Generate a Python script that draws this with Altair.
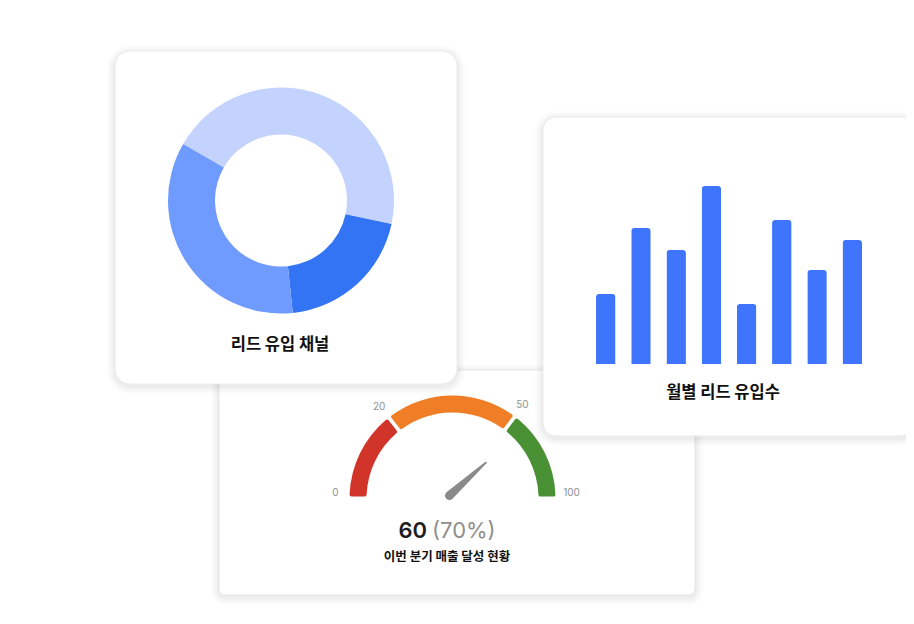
import math
import altair as alt
import pandas as pd

# ---------------- data ----------------
donut_channels = ["채널 A", "채널 B", "채널 C"]
donut_values = [45, 20, 35]
donut_colors = ["#C3D3FE", "#3374F5", "#6F9BFE"]

bar_months = ["1월", "2월", "3월", "4월", "5월", "6월", "7월", "8월"]
bar_values = [350, 680, 570, 890, 300, 720, 470, 620]

gauge_ticks = [0, 20, 50, 100]
gauge_segments = ["미달", "보통", "달성"]
gauge_colors = ["#D1352A", "#F07E26", "#4A9136"]
gauge_value = 60
gauge_percent = 70

donut_title = "리드 유입 채널"
bar_title = "월별 리드 유입수"
gauge_title = "이번 분기 매출 달성 현황"

# ---------------- layout (page px -> chart px) ----------------
O = 8
def P(v):
    return v - O

FONT = "Inter, Noto Sans CJK KR, sans-serif"
KFONT = "Noto Sans CJK KR, sans-serif"
one = pd.DataFrame({"k": [0]})


def card(x0, y0, x1, y1, r, stroke="#ebebeb"):
    layers = []
    for e, op in [(8, 0.012), (6, 0.016), (4, 0.02), (2, 0.025)]:
        layers.append(
            alt.Chart(one).mark_rect(color="black", opacity=op, cornerRadius=r + e).encode(
                x=alt.value(P(x0 - e)), x2=alt.value(P(x1 + e)),
                y=alt.value(P(y0 - e + 2)), y2=alt.value(P(y1 + e + 2)),
            )
        )
    layers.append(
        alt.Chart(one).mark_rect(fill="white", stroke=stroke, strokeWidth=1, cornerRadius=r).encode(
            x=alt.value(P(x0)), x2=alt.value(P(x1)),
            y=alt.value(P(y0)), y2=alt.value(P(y1)),
        )
    )
    return layers


# ---------------- gauge ----------------
GCX, GCY = 452.5, 498.5
theta_range = [-math.pi / 2, math.radians(-38.2), math.radians(37.3), math.pi / 2]
angle_range = [-90, -38.2, 37.3, 90]

seg_df = pd.DataFrame({
    "seg": gauge_segments,
    "start": gauge_ticks[:-1],
    "end": gauge_ticks[1:],
})
gauge_arcs = alt.Chart(seg_df).mark_arc(radius=103, radius2=86, padAngle=0.028, cornerRadius=2).encode(
    theta=alt.Theta("start:Q", stack=None,
                    scale=alt.Scale(domain=gauge_ticks, range=theta_range, zero=False, nice=False)),
    theta2="end:Q",
    color=alt.Color("seg:N", scale=alt.Scale(domain=gauge_segments, range=gauge_colors), legend=None),
    x=alt.value(P(GCX)), y=alt.value(P(GCY)),
)

tick_df = pd.DataFrame({"t": gauge_ticks})
tick_scale = alt.Scale(domain=gauge_ticks, range=theta_range, zero=False, nice=False)
tick_mid = alt.Chart(tick_df).transform_filter("datum.t > 0 && datum.t < 100").mark_text(
    radius=117, fontSize=10, color="#8f8f8f", font=FONT, align="center", baseline="middle"
).encode(
    theta=alt.Theta("t:Q", stack=None, scale=tick_scale),
    text="t:Q",
    x=alt.value(P(GCX - 1)), y=alt.value(P(GCY)),
)
tick_end = alt.Chart(tick_df).transform_filter("datum.t == 0 || datum.t == 100").mark_text(
    radius=118, fontSize=10, color="#8f8f8f", font=FONT, align="center", baseline="middle", dy=-6
).encode(
    theta=alt.Theta("t:Q", stack=None, scale=tick_scale),
    text="t:Q",
    x=alt.value(P(GCX + 1)), y=alt.value(P(GCY)),
)

needle_path = ("M -0.092 0 L -0.02 -1 A 0.02 0.02 0 0 1 0.02 -1 L 0.092 0 "
               "A 0.092 0.092 0 0 1 -0.092 0 Z")
val_df = pd.DataFrame({"value": [gauge_value], "pct": [gauge_percent]})
needle = alt.Chart(val_df).mark_point(
    shape=needle_path, size=98 * 98, filled=True, color="#8a8a8a", opacity=1, strokeWidth=0
).encode(
    angle=alt.Angle("value:Q", scale=alt.Scale(domain=gauge_ticks, range=angle_range, zero=False, nice=False)),
    x=alt.value(P(449.5)), y=alt.value(P(495.5)),
)

val_text = alt.Chart(val_df).mark_text(
    align="right", baseline="alphabetic", fontSize=22, fontWeight=600, color="#1d1d1d", font=FONT
).encode(text="value:Q", x=alt.value(P(427)), y=alt.value(P(537.5)))
pct_text = alt.Chart(val_df).transform_calculate(lbl="'(' + datum.pct + '%)'").mark_text(
    align="left", baseline="alphabetic", fontSize=22, fontWeight=400, color="#8e8e8e", font=FONT
).encode(text="lbl:N", x=alt.value(P(432)), y=alt.value(P(537.5)))
gauge_title_text = alt.Chart(pd.DataFrame({"t": [gauge_title]})).mark_text(
    align="center", baseline="middle", fontSize=12.5, fontWeight="bold", color="#111111", font=KFONT
).encode(text="t:N", x=alt.value(P(447)), y=alt.value(P(557)))

# ---------------- donut ----------------
DCX, DCY = 281, 200.5
start = math.radians(300)
donut_df = pd.DataFrame({"channel": donut_channels, "value": donut_values,
                         "idx": list(range(len(donut_channels)))})
donut = alt.Chart(donut_df).mark_arc(radius=113, radius2=66).encode(
    theta=alt.Theta("value:Q", stack=True, scale=alt.Scale(range=[start, start + 2 * math.pi])),
    color=alt.Color("channel:N", scale=alt.Scale(domain=donut_channels, range=donut_colors), legend=None),
    order=alt.Order("idx:Q"),
    x=alt.value(P(DCX)), y=alt.value(P(DCY)),
)
donut_title_text = alt.Chart(pd.DataFrame({"t": [donut_title]})).mark_text(
    align="center", baseline="middle", fontSize=16.5, fontWeight="bold", color="#111111", font=KFONT
).encode(text="t:N", x=alt.value(P(280)), y=alt.value(P(345)))

# ---------------- bars ----------------
bar_df = pd.DataFrame({"month": bar_months, "value": bar_values})
bars = alt.Chart(bar_df).mark_bar(color="#3F75FC", cornerRadiusTopLeft=3, cornerRadiusTopRight=3).encode(
    x=alt.X("month:N", sort=bar_months, axis=None,
            scale=alt.Scale(range=[P(596), P(862)], paddingInner=0.446, paddingOuter=0)),
    y=alt.Y("value:Q", axis=None,
            scale=alt.Scale(domain=[0, 890], range=[P(364), P(186)], nice=False, zero=True)),
)
bar_title_text = alt.Chart(pd.DataFrame({"t": [bar_title]})).mark_text(
    align="center", baseline="middle", fontSize=16.5, fontWeight="bold", color="#111111", font=KFONT
).encode(text="t:N", x=alt.value(P(723)), y=alt.value(P(392.5)))

# ---------------- compose ----------------
layers = []
layers += card(219, 370, 695, 595, 6, stroke="#e6e6e6")
layers += [gauge_arcs, tick_mid, tick_end, needle, val_text, pct_text, gauge_title_text]
layers += card(115, 51, 457, 384, 15)
layers += [donut, donut_title_text]
layers += card(543, 117, 913, 436, 13)
layers += [bars, bar_title_text]

chart = alt.layer(*layers).properties(
    width=898, height=608, padding=0, background="white",
    autosize=alt.AutoSizeParams(type="none"),
).resolve_scale(
    x="independent", y="independent", theta="independent", color="independent", angle="independent"
).configure_view(stroke=None, clip=True)

chart.save("out.html", embed_options={"renderer": "svg", "actions": False})
